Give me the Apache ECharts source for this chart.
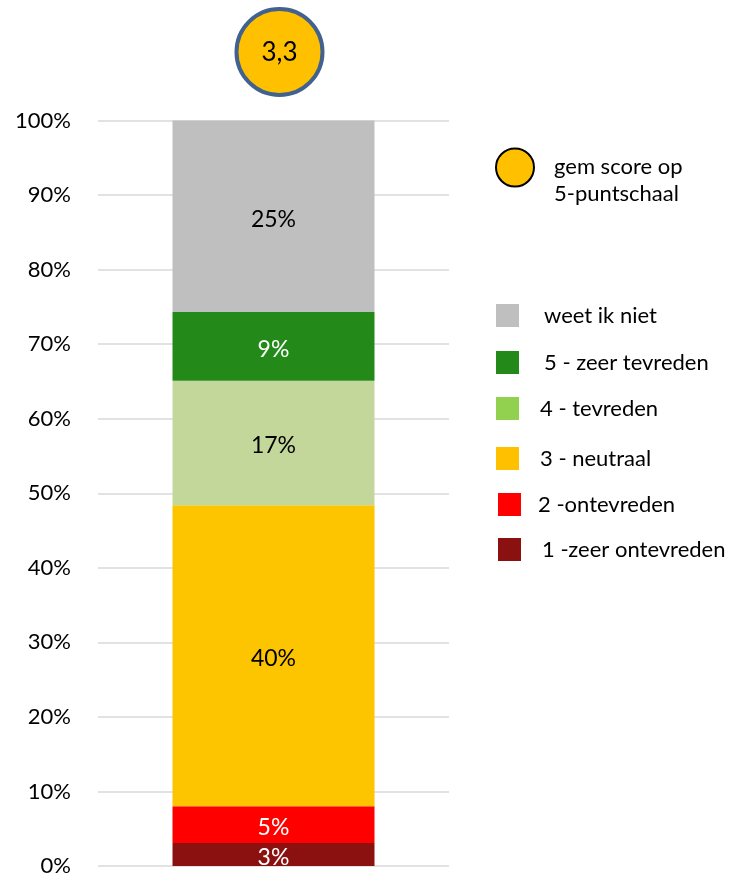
<!DOCTYPE html>
<html>
<head>
<meta charset="utf-8">
<script src="https://cdn.jsdelivr.net/npm/echarts@6/dist/echarts.min.js"></script>
<style>
  html, body { margin: 0; padding: 0; background: #fff; }
  #bar { width: 730px; height: 877px; }
</style>
</head>
<body>
<div id="bar"></div>
<script>
// data
const categories = [''];
const seriesNames = ['1 -zeer ontevreden', '2 -ontevreden', '3 - neutraal', '4 - tevreden', '5 - zeer tevreden', 'weet ik niet'];
const seriesValues = [3.1, 4.9, 40.4, 16.7, 9.2, 25.7];
const seriesLabels = ['3%', '5%', '40%', '17%', '9%', '25%'];
const yTicks = [0, 10, 20, 30, 40, 50, 60, 70, 80, 90, 100];
const gemScore = '3,3';
const gemLabel = 'gem score op\n5-puntschaal';

const barColors = ['#8B1010', '#FF0000', '#FDC400', '#C4D79B', '#238A1A', '#BFBFBF'];
const legendColors = ['#8B1010', '#FF0000', '#FFC000', '#92D050', '#238A1A', '#BFBFBF'];
const labelColors = ['#fff', '#fff', '#000', '#000', '#fff', '#000'];

const font = 'Lato, "Open Sans", sans-serif';

let myChart = echarts.init(document.getElementById('bar'));

// legend placement (top of square, left of square, extra text gap), top to bottom
const legendPos = [
    [304, 496, 20], [351, 496, 20], [397, 496, 16],
    [447, 496, 16], [493, 498, 12], [538, 498, 16]
];

let legends = legendPos.map((p, i) => {
    let idx = seriesNames.length - 1 - i;
    return {
        top: p[0], left: p[1], padding: 0,
        selectedMode: false,
        icon: 'rect', itemWidth: 23, itemHeight: 23,
        textStyle: { fontFamily: font, fontSize: 22, color: '#000', padding: [0, 0, 0, p[2]] },
        data: [{ name: seriesNames[idx], itemStyle: { color: legendColors[idx] } }]
    };
});

myChart.setOption({
    animation: false,
    grid: { left: 98, right: 281, top: 120.5, bottom: 10.5 },
    legend: legends,
    xAxis: {
        type: 'category',
        data: categories,
        axisLine: { show: false },
        axisTick: { show: false },
        axisLabel: { show: false }
    },
    yAxis: {
        type: 'value',
        min: yTicks[0],
        max: yTicks[yTicks.length - 1],
        interval: yTicks[1] - yTicks[0],
        axisLine: { show: false },
        axisTick: { show: false },
        axisLabel: { formatter: '{value}%', fontFamily: font, fontSize: 22, color: '#000', margin: 27 },
        splitLine: { lineStyle: { color: '#D9D9D9', width: 1.5 } }
    },
    series: seriesNames.map((name, i) => ({
        name: name,
        type: 'bar',
        stack: 'total',
        barWidth: 202,
        itemStyle: { color: barColors[i] },
        label: {
            show: true,
            position: 'inside',
            offset: [0, 3],
            formatter: () => seriesLabels[i],
            fontFamily: font,
            fontSize: 23,
            color: labelColors[i]
        },
        data: [seriesValues[i]]
    })),
    graphic: [
        {
            type: 'circle',
            shape: { cx: 279.5, cy: 52, r: 43 },
            style: { fill: '#FFC000', stroke: '#41618F', lineWidth: 4 }
        },
        {
            type: 'text',
            x: 279.5, y: 53,
            style: { text: gemScore, fontFamily: font, fontSize: 26, fill: '#000', align: 'center', verticalAlign: 'middle' }
        },
        {
            type: 'circle',
            shape: { cx: 515, cy: 167.5, r: 19 },
            style: { fill: '#FFC000', stroke: '#000', lineWidth: 2 }
        },
        {
            type: 'text',
            x: 554, y: 153,
            style: { text: gemLabel, fontFamily: font, fontSize: 22, lineHeight: 27, fill: '#000', align: 'left', verticalAlign: 'top' }
        }
    ]
});
</script>
</body>
</html>
